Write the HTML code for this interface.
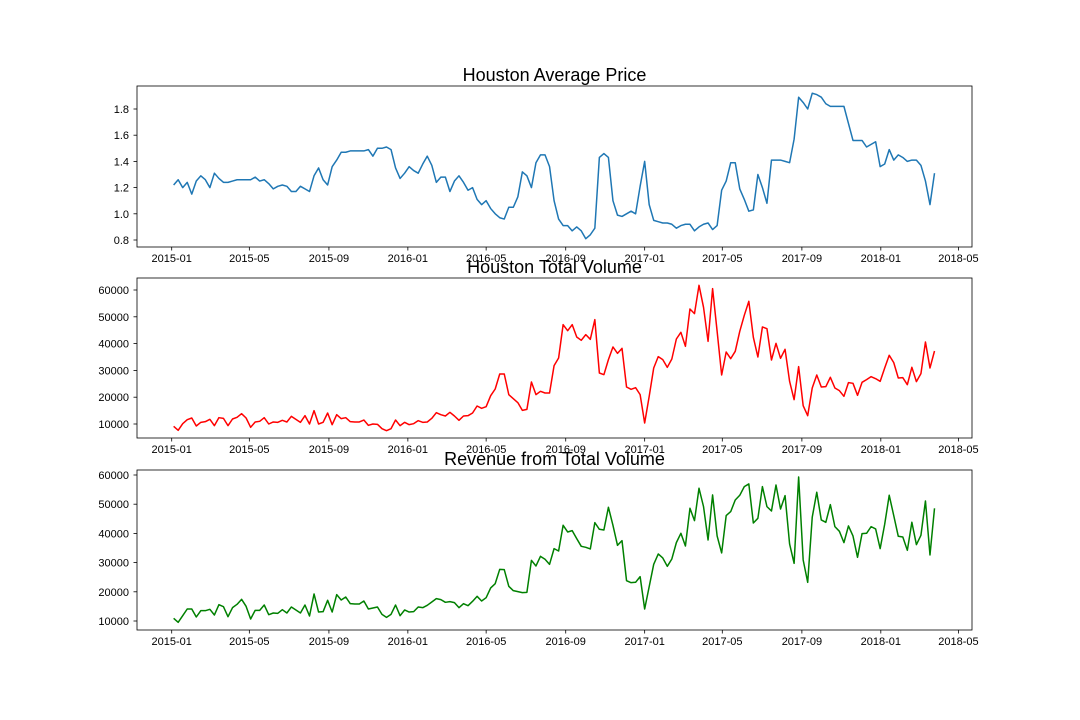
<!DOCTYPE html>
<html><head><meta charset="utf-8"><style>
body{margin:0;background:#fff;}
svg{display:block;font-family:"Liberation Sans","DejaVu Sans",sans-serif;}
</style></head><body>
<svg id="fig" width="1080" height="720" viewBox="0 0 1080 720"></svg>
<script>
const priceValues=[1.22,1.26,1.20,1.24,1.15,1.25,1.29,1.26,1.20,1.31,1.27,1.24,1.24,1.25,1.26,1.26,1.26,1.26,1.28,1.25,1.26,1.23,1.19,1.21,1.22,1.21,1.17,1.17,1.21,1.19,1.17,1.29,1.35,1.26,1.22,1.36,1.41,1.47,1.47,1.48,1.48,1.48,1.48,1.49,1.44,1.50,1.50,1.51,1.49,1.35,1.27,1.31,1.36,1.33,1.31,1.38,1.44,1.37,1.24,1.28,1.28,1.17,1.25,1.29,1.24,1.18,1.20,1.11,1.07,1.10,1.04,1.00,0.97,0.96,1.05,1.05,1.13,1.32,1.29,1.20,1.39,1.45,1.45,1.36,1.10,0.96,
0.91,0.91,0.87,0.90,0.87,0.81,0.84,0.89,1.43,1.46,1.43,1.10,0.99,0.98,1.00,1.02,1.00,1.21,1.40,1.07,0.95,0.94,0.93,0.93,0.92,0.89,0.91,0.92,0.92,0.87,0.90,0.92,0.93,0.88,0.91,1.18,1.25,1.39,1.39,1.19,1.11,1.02,1.03,1.30,1.20,1.08,1.41,1.41,1.41,1.40,1.39,1.57,1.89,1.85,1.80,1.92,1.91,1.89,1.84,1.82,1.82,1.82,1.82,1.69,1.56,1.56,1.56,1.51,1.53,1.55,1.36,1.38,1.49,1.41,1.45,1.43,1.40,1.41,1.41,1.37,1.25,1.07,1.31];
const volumeValues=[9130,7640,10120,11620,12240,9250,10620,10870,11740,9380,12360,12110,9380,11870,12490,13860,12240,8760,10750,11000,12360,10000,10750,10620,11370,10750,12860,11740,10620,13110,10000,14980,10000,10620,14110,9750,13480,11990,12360,10870,10750,10750,11490,9500,10000,9880,8260,7510,8260,11490,9380,10620,9750,10120,11240,10620,10750,12110,14230,13480,12990,14350,12990,11370,12990,13110,14110,16720,15850,16470,20570,23060,28660,28660,20950,19450,17960,15100,15470,25670,20950,22190,21570,21570,31770,34630,
47070,44830,47070,42470,41220,43340,41600,48940,29030,28410,34010,38740,36370,38240,23810,22940,23560,20950,10370,20330,30900,35130,34010,31150,34260,41720,44210,38990,52920,51180,61750,53540,40850,60510,44580,28290,36870,34380,37120,44580,50550,55780,42340,35000,46200,45580,33880,40100,34510,37870,25920,19080,31400,16840,13110,23440,28290,23810,23930,27420,23440,22440,20330,25430,25180,20700,25550,26550,27660,26920,25920,30900,35630,32890,27170,27290,24680,31150,25800,28780,40600,30900,37240];
const revenueValues=[10910,9540,11830,14110,14110,11370,13540,13540,14000,12060,15600,14910,11480,14570,15710,17420,15020,10690,13650,13650,15480,12170,12740,12630,13880,12740,14800,13770,12740,15480,11710,19250,13080,13200,17080,13080,19020,17190,18220,15940,15820,15820,16850,14110,14450,14800,12280,11260,12280,15480,11830,13770,13080,13200,14800,14570,15370,16510,17650,17310,16400,16620,16280,14570,15940,15250,16740,18450,16850,17990,21310,22790,27700,27590,21880,20390,20050,19710,19820,30780,28840,32150,31130,29410,34780,33980,
42780,40490,40950,38210,35580,35240,34670,43690,41410,41180,48940,42780,35920,37520,23820,23130,23250,25190,14110,21760,29410,32950,31580,28730,31240,36840,40030,35690,48600,44370,55450,49170,37750,53170,39120,33300,46090,47460,51450,53050,56020,56940,43570,45170,56020,49170,47690,56590,48370,52940,36380,29760,59330,30900,23250,45520,54080,44600,43800,49860,42320,40720,36840,42550,39120,31810,39920,40030,42320,41520,34780,43120,53050,46090,39010,38780,34210,43800,36150,39350,51110,32610,48600];
const startDate="2015-01-04";
const xTickLabels=["2015-01","2015-05","2015-09","2016-01","2016-05","2016-09","2017-01","2017-05","2017-09","2018-01","2018-05"];
const priceTicks=[0.8,1.0,1.2,1.4,1.6,1.8];
const volumeTicks=[10000,20000,30000,40000,50000,60000];
const revenueTicks=[10000,20000,30000,40000,50000,60000];

const NS="http://www.w3.org/2000/svg";
const fig=document.getElementById('fig');
const L=137,R=972;
const base=Date.UTC(2015,0,1);
function xOfDays(d){return 171.7+d*0.647;}
function xOfDateStr(s){const p=s.split('-');return xOfDays((Date.UTC(+p[0],+p[1]-1,p[2]?+p[2]:1)-base)/86400000);}
function el(tag,attrs,parent){const e=document.createElementNS(NS,tag);for(const k in attrs)e.setAttribute(k,attrs[k]);(parent||fig).appendChild(e);return e;}
const s0=startDate.split('-');const startDays=(Date.UTC(+s0[0],+s0[1]-1,+s0[2])-base)/86400000;

const panels=[
 {title:"Houston Average Price",top:86,bot:247,vals:priceValues,ticks:priceTicks,color:"#1f77b4",y:v=>240-(v-0.8)*131,fmt:v=>v.toFixed(1),name:"average-price"},
 {title:"Houston Total Volume",top:278,bot:438,vals:volumeValues,ticks:volumeTicks,color:"#ff0000",y:v=>424-(v-10000)/50000*134,fmt:v=>String(v),name:"total-volume"},
 {title:"Revenue from Total Volume",top:470,bot:630,vals:revenueValues,ticks:revenueTicks,color:"#008000",y:v=>621-(v-10000)/50000*146,fmt:v=>String(v),name:"revenue"}
];
panels.forEach(p=>{
  const g=el('g',{});
  
  
  const t=el('text',{x:(L+R)/2,y:p.top-5,'text-anchor':'middle','font-size':18,fill:'#000'},g);
  t.textContent=p.title;
  
  
  xTickLabels.forEach(lbl=>{
    const x=xOfDateStr(lbl);
    const tk=el('line',{x1:x,x2:x,y1:p.bot,y2:p.bot+3.5,stroke:'#000','stroke-width':0.8},g);
    
    
    const tx=el('text',{x:x,y:p.bot+15,'text-anchor':'middle','font-size':11,fill:'#000'},g);
    tx.textContent=lbl;
    
    
  });
  p.ticks.forEach(v=>{
    const y=p.y(v);
    const tk=el('line',{x1:L-3.5,x2:L,y1:y,y2:y,stroke:'#000','stroke-width':0.8},g);
    
    
    const ty=el('text',{x:L-8,y:y+4,'text-anchor':'end','font-size':11,fill:'#000'},g);
    ty.textContent=p.fmt(v);
    
    
  });
  const pts=p.vals.map((v,i)=>xOfDays(startDays+i*7).toFixed(2)+','+p.y(v).toFixed(2)).join(' ');
  const line=el('polyline',{points:pts,fill:'none',stroke:p.color,'stroke-width':1.5,'stroke-linejoin':'round'},g);
  
  
  const fr=el('rect',{x:L,y:p.top,width:R-L,height:p.bot-p.top,fill:'none',stroke:'#000','stroke-width':0.8},g);
  
  
});
</script>
</body></html>
